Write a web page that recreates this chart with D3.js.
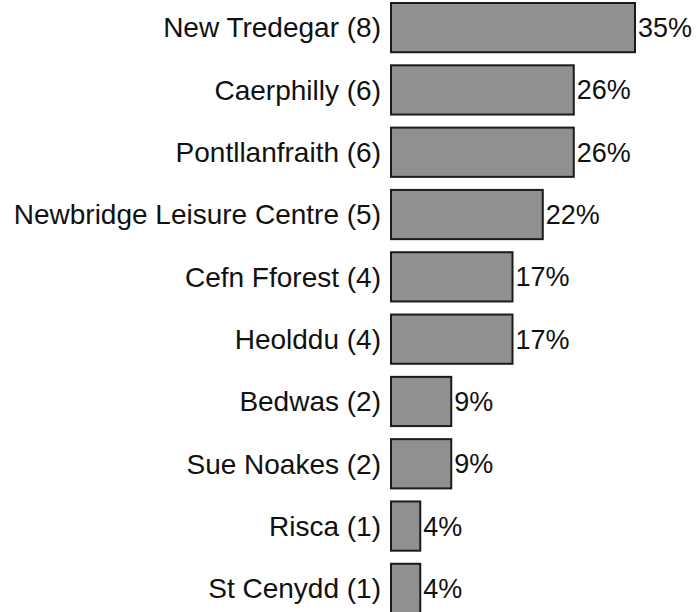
<!DOCTYPE html>
<html>
<head>
<meta charset="utf-8">
<script src="https://cdn.jsdelivr.net/npm/d3@7"></script>
<style>
  body { margin: 0; background: #fff; }
  text { font-family: "Liberation Sans", Arial, sans-serif; fill: #111; }
</style>
</head>
<body>
<div id="chart"></div>
<script>
// venues with respondent counts, percentages as shown on the chart
var venues = ['New Tredegar', 'Caerphilly', 'Pontllanfraith', 'Newbridge Leisure Centre',
  'Cefn Fforest', 'Heolddu', 'Bedwas', 'Sue Noakes', 'Risca', 'St Cenydd'];
var counts = [8, 6, 6, 5, 4, 4, 2, 2, 1, 1];
var percents = [34.8, 26.1, 26.1, 21.7, 17.4, 17.4, 8.7, 8.7, 4.3, 4.3];

var WIDTH = 696, HEIGHT = 612, BAR_LEFT = 391;

var rows = venues.map(function(v, i) {
  return { label: v + ' (' + counts[i] + ')', pct: percents[i] };
});

var svg = d3.select('#chart').append('svg')
  .attr('width', WIDTH)
  .attr('height', HEIGHT);

var x = d3.scaleLinear().domain([0, 34.8]).range([0, 245]);
var y = d3.scaleBand().domain(rows.map(function(d) { return d.label; }))
  .range([3, 613]).paddingInner(0.21).paddingOuter(0);

var g = svg.selectAll('g.row')
  .data(rows)
  .enter()
  .append('g')
  .attr('class', 'row')
  .attr('transform', function(d) { return 'translate(0,' + y(d.label) + ')'; });

// bars
g.append('rect')
  .attr('x', BAR_LEFT)
  .attr('y', 0)
  .attr('width', function(d) { return x(d.pct) - 1; })
  .attr('height', y.bandwidth())
  .style('fill', '#909090')
  .style('stroke', '#1a1a1a')
  .style('stroke-width', 2);

// category labels
g.append('text')
  .attr('x', BAR_LEFT - 10)
  .attr('y', y.bandwidth() / 2)
  .attr('dy', '0.35em')
  .attr('text-anchor', 'end')
  .style('font-size', '28px')
  .text(function(d) { return d.label; });

// percent labels
g.append('text')
  .attr('x', function(d) { return BAR_LEFT + x(d.pct) + 2; })
  .attr('y', y.bandwidth() / 2)
  .attr('dy', '0.35em')
  .style('font-size', '27px')
  .text(function(d) { return Math.round(d.pct) + '%'; });
</script>
</body>
</html>
